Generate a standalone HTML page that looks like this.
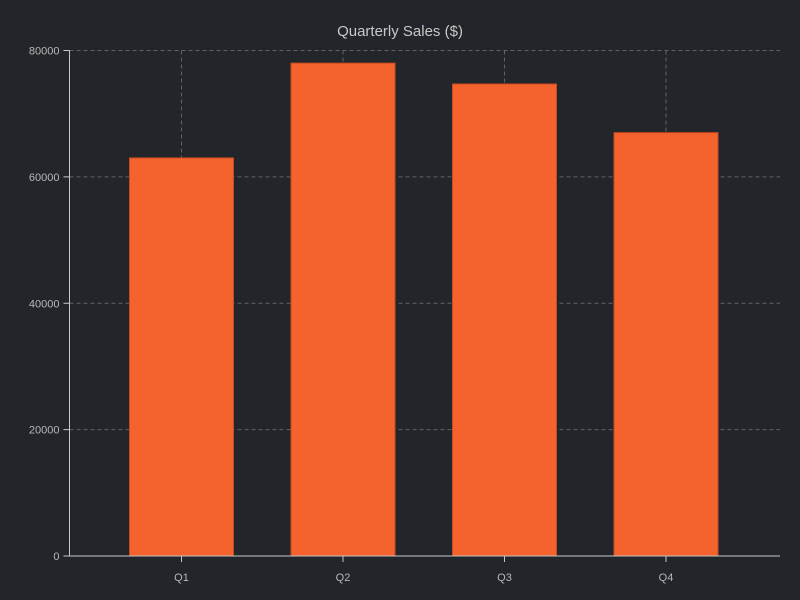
<!DOCTYPE html>
<html><head><meta charset="utf-8"><style>
body{margin:0;background:#222529;}
svg{display:block;font-family:"Liberation Sans",sans-serif;}
</style></head><body>
<svg id="chart" width="800" height="600">
<rect width="800" height="600" fill="#222529"/>
<text x="400" y="36" text-anchor="middle" fill="#c8c8c8" font-size="15">Quarterly Sales ($)</text>
<g id="grid"></g><g id="bars"></g><g id="axes"></g>
</svg>
<script>
const categories = ["Q1","Q2","Q3","Q4"];
const sales = [63000, 78000, 74700, 67000];
const yTicks = [0, 20000, 40000, 60000, 80000];
const yTickLabels = ["0","20000","40000","60000","80000"];

const NS="http://www.w3.org/2000/svg";
const x0=69.5, x1=780, yTop=50.5, yBot=556;
function yScale(v){return yBot-(v/80000)*(yBot-yTop);}
function xScale(i){return 181.5+161.5*i;}
const bw=104;
function mk(tag,attrs,parent){const e=document.createElementNS(NS,tag);for(const k in attrs)e.setAttribute(k,attrs[k]);document.getElementById(parent).appendChild(e);return e;}

yTicks.forEach((t,i)=>{
  const y=yScale(t);
  if(t>0){
    const g=mk('line',{x1:x0,x2:x1,y1:y,y2:y,stroke:'#5f6368','stroke-width':1,'stroke-dasharray':'4,3'},'grid');
    
    
  }
  const tk=mk('line',{x1:x0-6,x2:x0,y1:y,y2:y,stroke:'#c8c8c8','stroke-width':1},'axes');
  
  
  const lb=mk('text',{x:x0-10,y:y+4,'text-anchor':'end',fill:'#b8b8b8','font-size':11},'axes');
  lb.textContent=yTickLabels[i];
  
  
});
categories.forEach((c,i)=>{
  const cx=xScale(i);
  const g=mk('line',{x1:cx,x2:cx,y1:yTop,y2:yBot,stroke:'#5f6368','stroke-width':1,'stroke-dasharray':'4,3'},'grid');
  
  
  const y=yScale(sales[i]);
  const b=mk('rect',{x:cx-bw/2,y:y,width:bw,height:yBot-y,fill:'#f4622d',stroke:'#c94a1e','stroke-width':1},'bars');
  
  
  const tk=mk('line',{x1:cx,x2:cx,y1:yBot,y2:yBot+6,stroke:'#c8c8c8','stroke-width':1},'axes');
  
  
  const lb=mk('text',{x:cx,y:yBot+25,'text-anchor':'middle',fill:'#b8b8b8','font-size':11},'axes');
  lb.textContent=c;
  
  
});
const ya=mk('line',{x1:x0,x2:x0,y1:yTop,y2:yBot,stroke:'#c8c8c8','stroke-width':1},'axes');


const xa=mk('line',{x1:x0,x2:x1,y1:yBot,y2:yBot,stroke:'#c8c8c8','stroke-width':1},'axes');


</script>
</body></html>
